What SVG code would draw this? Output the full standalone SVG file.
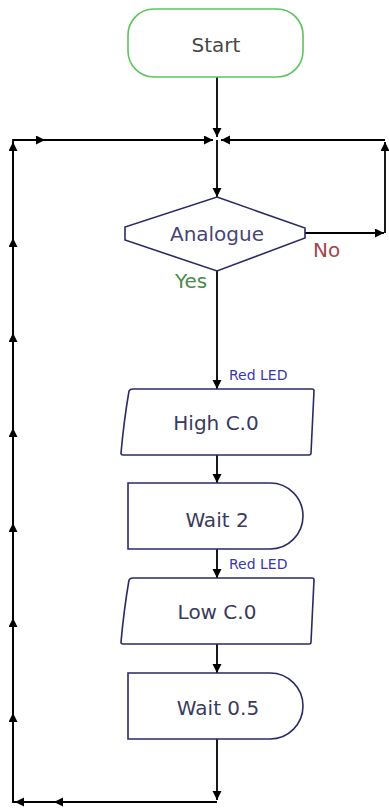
<svg xmlns="http://www.w3.org/2000/svg" width="389" height="808" viewBox="0 0 389 808">
<style>
.bg{fill:#ffffff}
.node{fill:#ffffff;stroke:#2a2a66;stroke-width:1.6}
.term{fill:#ffffff;stroke:#5cc45c;stroke-width:1.6}
.lbl{font-family:"DejaVu Sans",Verdana,sans-serif;font-size:20px;text-anchor:middle;fill:#3a3a5c}
.small{font-family:"DejaVu Sans",Verdana,sans-serif;font-size:14px;fill:#3838b0}
.no{font-family:"DejaVu Sans",Verdana,sans-serif;font-size:20px;fill:#a04848}
.yes{font-family:"DejaVu Sans",Verdana,sans-serif;font-size:20px;fill:#4a8a4a}
.c{fill:none;stroke:#000000;stroke-width:1.8;marker-end:url(#ah)}
.cn{fill:none;stroke:#000000;stroke-width:1.8}
</style>
<defs>
<marker id="ah" markerUnits="userSpaceOnUse" markerWidth="10" markerHeight="10" refX="9" refY="4.5" orient="auto">
<path d="M0,0 L9,4.5 L0,9 Z" fill="#000000"/>
</marker>
</defs>
<rect class="bg" x="0" y="0" width="389" height="808"/>
<g id="connectors">
<path class="c" d="M217,77 V137"/>
<path class="c" d="M217,140 V197"/>
<path class="c" d="M217,271 V389"/>
<path class="c" d="M217,455 V483"/>
<path class="c" d="M217,549 V578"/>
<path class="c" d="M217,644 V673"/>
<path class="c" d="M217,739 V800"/>
<path class="cn" d="M217,802 H13 V140 H213"/>
<path class="c" d="M217,802 H54"/>
<path class="c" d="M54,802 H15"/>
<path class="c" d="M13,802 V713"/>
<path class="c" d="M13,713 V618"/>
<path class="c" d="M13,618 V523"/>
<path class="c" d="M13,523 V428"/>
<path class="c" d="M13,428 V333"/>
<path class="c" d="M13,333 V238"/>
<path class="c" d="M13,238 V142"/>
<path class="c" d="M13,140 H45"/>
<path class="c" d="M45,140 H213"/>
<path class="c" d="M305,233 H384"/>
<path class="c" d="M385,233 V142"/>
<path class="c" d="M385,140 H221"/>
</g>
<g id="start">
<rect class="term" x="128" y="9" width="175" height="68" rx="26" ry="26"/>
<text class="lbl" x="216" y="52" style="fill:#474747">Start</text>
</g>
<g id="analogue">
<path class="node" d="M217,197 L305,228 L305,238 L217,271 L125,240 L125,227 Z"/>
<text class="lbl" x="217" y="241" style="fill:#464678">Analogue</text>
<text class="no" x="313" y="257">No</text>
<text class="yes" x="175" y="288">Yes</text>
</g>
<g id="high">
<text class="small" x="229" y="380">Red LED</text>
<path class="node" d="M133,389 H312 Q314,389 314,391 L311,453 Q311,455 309,455 H123 Q121,455 121,453 Q124,420 129,391 Q130,389 133,389 Z"/>
<text class="lbl" x="216" y="430">High C.0</text>
</g>
<g id="wait2">
<path class="node" d="M128,483 H270 A33,33 0 0 1 270,549 H128 Z"/>
<text class="lbl" x="217" y="527">Wait 2</text>
</g>
<g id="low">
<text class="small" x="229" y="569">Red LED</text>
<path class="node" d="M133,578 H312 Q314,578 314,580 L311,642 Q311,644 309,644 H123 Q121,644 121,642 Q124,609 129,580 Q130,578 133,578 Z"/>
<text class="lbl" x="217" y="619">Low C.0</text>
</g>
<g id="wait05">
<path class="node" d="M128,673 H270 A33,33 0 0 1 270,739 H128 Z"/>
<text class="lbl" x="218" y="715">Wait 0.5</text>
</g>
</svg>
